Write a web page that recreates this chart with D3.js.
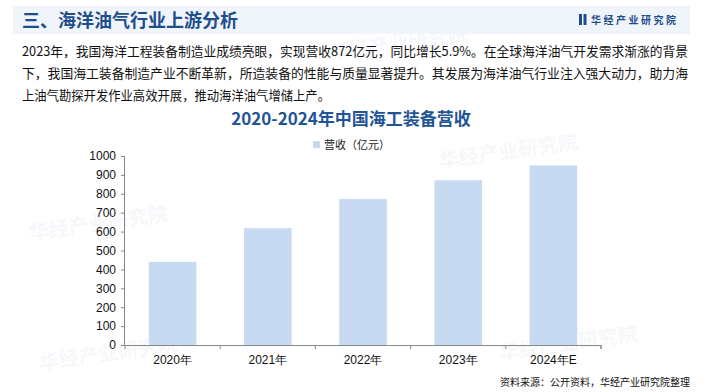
<!DOCTYPE html>
<html><head><meta charset="utf-8">
<script src="https://cdn.jsdelivr.net/npm/d3@7"></script>
<style>
html,body{margin:0;padding:0;background:#fff;}
svg{display:block;font-family:"Noto Sans CJK SC","Microsoft YaHei",sans-serif;}
</style></head>
<body><svg id="c" width="704" height="392"></svg>
<script>
const categories = ["2020年","2021年","2022年","2023年","2024年E"];
const revenue = [440, 618, 772, 872, 950];
const yTicks = [0,100,200,300,400,500,600,700,800,900,1000];
const seriesName = "营收（亿元）";
const pageTitle = "三、海洋油气行业上游分析";
const chartTitle = "2020-2024年中国海工装备营收";
const paragraph = [
  "2023年，我国海洋工程装备制造业成绩亮眼，实现营收872亿元，同比增长5.9%。在全球海洋油气开发需求渐涨的背景",
  "下，我国海工装备制造产业不断革新，所造装备的性能与质量显著提升。其发展为海洋油气行业注入强大动力，助力海",
  "上油气勘探开发作业高效开展，推动海洋油气增储上产。"
];
const source = "资料来源：公开资料，华经产业研究院整理";
const brand = "华经产业研究院";

const svg = d3.select("#c");

// faint watermarks (kept inside the page)
const wm = [[30,240],[440,168],[330,60],[40,370],[500,360]];
wm.forEach(([x,y])=>{
  const g = svg.append("g").attr("transform",`translate(${x},${y}) rotate(-8)`).attr("opacity",0.045);
  g.append("text").attr("font-size",20).attr("font-weight","bold").attr("fill","#3a5f9a").text(brand);
});

// header band
svg.append("rect").attr("x",13).attr("y",6).attr("width",677).attr("height",28).attr("fill","#f0f4fb");
svg.append("text").attr("x",22).attr("y",26.5).attr("font-size",18).attr("font-weight","bold")
  .attr("fill","#1f4e8c").text(pageTitle);
// logo
svg.append("rect").attr("x",579).attr("y",14).attr("width",3).attr("height",11).attr("fill","#1f4e8c");
svg.append("rect").attr("x",583.5).attr("y",14).attr("width",3).attr("height",11).attr("fill","#1f4e8c");
svg.append("text").attr("x",591).attr("y",23.5).attr("font-size",10).attr("font-weight","bold")
  .attr("fill","#1f4e8c").attr("letter-spacing",2.5).text(brand);

// paragraph
const lineEnds = [688, 688, 330];
paragraph.forEach((t,i)=>{
  svg.append("text").attr("x",22).attr("y",56+i*22).attr("font-size",13).attr("fill","#111")
    .attr("textLength",lineEnds[i]-22).attr("lengthAdjust","spacingAndGlyphs").text(t);
});

// chart title
svg.append("text").attr("x",351).attr("y",125).attr("text-anchor","middle").attr("font-size",17)
  .attr("font-weight","bold").attr("fill","#1f5596").text(chartTitle);

// legend
svg.append("rect").attr("x",313).attr("y",141).attr("width",7).attr("height",7).attr("fill","#c8daf2");
svg.append("text").attr("x",324).attr("y",148.5).attr("font-size",11).attr("fill","#222").text(seriesName);

// scales
const x = d3.scaleBand().domain(categories).range([125,601]).paddingInner(0.5).paddingOuter(0.25);
const y = d3.scaleLinear().domain([0,1000]).range([345,156]);

svg.selectAll("rect.bar").data(revenue).enter().append("rect").attr("class","bar")
  .attr("x",(d,i)=>x(categories[i])).attr("width",x.bandwidth())
  .attr("y",d=>y(d)).attr("height",d=>y(0)-y(d)).attr("fill","#c8daf2");

// y axis
const ya = svg.append("g").attr("transform","translate(125,0)")
  .call(d3.axisLeft(y).tickValues(yTicks).tickSize(4).tickPadding(5).tickFormat(d3.format("d")));
ya.select(".domain").attr("stroke","#888").attr("d","M-0.5,156V345.5");
ya.selectAll(".tick line").attr("stroke","#888");
ya.selectAll("text").attr("font-family","Liberation Sans, Arial, sans-serif").attr("font-size",12).attr("fill","#111");

// x axis
const xa = svg.append("g").attr("transform","translate(0,345)")
  .call(d3.axisBottom(x).tickSize(0).tickPadding(10));
xa.select(".domain").attr("stroke","#888").attr("d","M125,0.5H601V4");
xa.selectAll("text").attr("font-size",12).attr("fill","#111");
const bounds = [125, ...categories.map(c=>x(c)+x.bandwidth()/2+x.step()/2)];
xa.selectAll("line.bt").data(bounds).enter().append("line").attr("class","bt")
  .attr("x1",d=>d).attr("x2",d=>d).attr("y1",0).attr("y2",4).attr("stroke","#888");

// source
svg.append("text").attr("x",690).attr("y",386).attr("text-anchor","end").attr("font-size",10)
  .attr("fill","#111").text(source);
</script></body></html>
